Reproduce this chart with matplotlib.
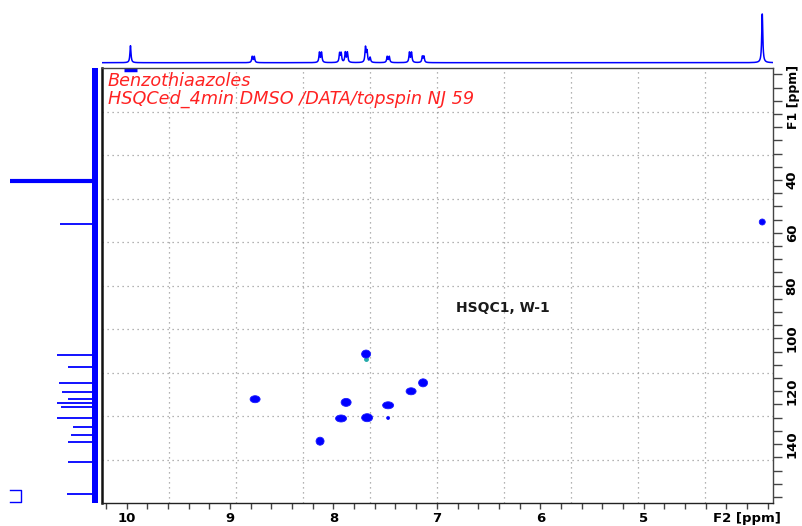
import numpy as np
import matplotlib
matplotlib.use("Agg")
import matplotlib.pyplot as plt
from matplotlib.patches import Ellipse

# ---------------- data ----------------
# 2D cross peaks (F2 = 1H ppm, F1 = 13C ppm)
cp_f2 = [7.684, 8.757, 7.877, 7.471, 7.249, 7.133, 7.926, 7.674, 8.129, 3.854, 7.471]
cp_f1 = [105.9, 123.0, 124.2, 125.3, 120.0, 116.8, 130.3, 130.0, 138.9, 55.9, 130.1]

# 1H projection (top): line positions (ppm) and heights
h_ppm = [9.962, 8.785, 8.765, 8.135, 8.115, 7.94, 7.925, 7.885, 7.865,
         7.69, 7.675, 7.645, 7.48, 7.46, 7.265, 7.245, 7.14, 7.125, 3.854]
h_int = [17, 6, 6, 10, 10, 9, 9, 10, 10, 15, 11, 5, 6, 6, 10, 10, 6, 6, 49]

# 13C projection (left): line positions (ppm) and intensities
c_ppm = [40.4, 56.5, 106.3, 110.8, 116.9, 120.3, 123.0, 124.5, 126.0,
         130.2, 133.6, 136.6, 139.2, 146.8, 158.9]
c_int = [85, 35, 38, 27, 36, 33, 27, 38, 34, 38, 22, 24, 27, 27, 28]

x_ticks = [10, 9, 8, 7, 6, 5, 4]
x_labels = ["10", "9", "8", "7", "6", "5", "F2 [ppm]"]
y_ticks = [40, 60, 80, 100, 120, 140]
y_labels = ["40", "60", "80", "100", "120", "140"]

title1 = "Benzothiaazoles"
title2 = "HSQCed_4min DMSO /DATA/topspin NJ 59"
note = "HSQC1, W-1"

# ---------------- style / layout ----------------
W, H = 802, 526
BLUE = "#0000ff"
XLIM = (10.24, 3.755)
YLIM = (162.3, -2.3)
PX_PER_PPM_X = 103.4
PX_PER_PPM_Y = 2.64
cp_wpx = [9, 10, 10, 11, 10, 9, 11, 11, 8, 6, 3]
cp_hpx = [8, 7, 8, 7, 7, 8, 7, 8, 8, 6, 3]

fig = plt.figure(figsize=(W / 100, H / 100), dpi=100)

def ax_px(x0, y0, x1, y1):
    return fig.add_axes([x0 / W, 1 - y1 / H, (x1 - x0) / W, (y1 - y0) / H])

# main 2D axes
ax = ax_px(101.7, 68.3, 772.5, 503)
ax.set_xlim(*XLIM)
ax.set_ylim(*YLIM)

for s in ax.spines.values():
    s.set_color("#444444")
    s.set_linewidth(1.0)
ax.spines["left"].set_color("#111111")
ax.spines["left"].set_linewidth(1.8)
ax.spines["bottom"].set_color("#222222")

# grid: 10 x 10 equal divisions of the frame
for k in range(1, 10):
    ax.plot([k / 10, k / 10], [0, 1], transform=ax.transAxes, color="#9a9a9a",
            lw=0.9, ls=(0, (1, 3)), zorder=0)
    ax.plot([0, 1], [k / 10, k / 10], transform=ax.transAxes, color="#9a9a9a",
            lw=0.9, ls=(0, (1, 3)), zorder=0)

# ticks
ax.set_xticks(x_ticks)
ax.set_xticklabels(x_labels, fontsize=9.5, fontweight="bold")
ax.set_xticks(np.arange(10.2, 3.7, -0.2), minor=True)
ax.tick_params(axis="x", which="both", direction="out", length=4.5, width=1,
               color="#444444", pad=2)
ax.yaxis.tick_right()
ax.set_yticks(y_ticks)
ax.set_yticklabels(y_labels, fontsize=9.5, fontweight="bold", rotation=90,
                   va="center")
ax.set_yticks(np.arange(0, 165, 5), minor=True)
ax.tick_params(axis="y", which="both", direction="out", length=6.5, width=1,
               color="#444444", pad=3)
fig.text(793 / W, 1 - 97 / H, "F1 [ppm]", rotation=90, ha="center",
         va="center", fontsize=9, fontweight="bold")

# cross peaks
for f2, f1, wp, hp in zip(cp_f2, cp_f1, cp_wpx, cp_hpx):
    ax.add_patch(Ellipse((f2, f1), wp / PX_PER_PPM_X, hp / PX_PER_PPM_Y,
                         facecolor=BLUE, edgecolor="#1a1aff", lw=0.6, zorder=3))
# small negative contour under the 105.9 peak
ax.plot([cp_f2[0]], [cp_f1[0] + 2.0], marker="o", ms=2.5, color="#22aaaa",
        zorder=2)
# folded blue bar near the top edge
ax.plot([10.02, 9.9], [-1.6, -1.6], color=BLUE, lw=2.5, clip_on=False,
        solid_capstyle="butt")

# texts
fig.text(108 / W, 1 - 81 / H, title1, color="#ff2222", style="italic",
         fontsize=12.7, va="center", ha="left")
fig.text(108 / W, 1 - 98.5 / H, title2, color="#ff2222", style="italic",
         fontsize=12.7, va="center", ha="left")
fig.text(503 / W, 1 - 308 / H, note, color="#1a1a1a", fontweight="bold",
         fontsize=10, va="center", ha="center")

# top 1H projection
axt = ax_px(101.7, 0, 772.5, 66)
axt.set_xlim(*XLIM)
axt.set_ylim(-3.3, 62.7)
axt.axis("off")
grid_ppm = np.linspace(XLIM[0], XLIM[1], 6000)
hw = 0.006
spec = np.zeros_like(grid_ppm)
for p, h in zip(h_ppm, h_int):
    spec += h * hw ** 2 / ((grid_ppm - p) ** 2 + hw ** 2)
axt.plot(grid_ppm, spec, color=BLUE, lw=1.1)

# left 13C projection
axl = ax_px(0, 68.3, 101.7, 503)
axl.set_ylim(*YLIM)
axl.set_xlim(95, -6.7)
axl.axis("off")
axl.axvspan(-3, 3, color=BLUE, lw=0)
for p, v in zip(c_ppm, c_int):
    axl.hlines(p, 0, v, color=BLUE, lw=3.0 if v > 60 else 1.3)
axl.plot([85, 74, 74, 85], [157.4, 157.4, 162.1, 162.1], color=BLUE, lw=1.0,
         clip_on=False)

fig.savefig("out.png", dpi=100)
